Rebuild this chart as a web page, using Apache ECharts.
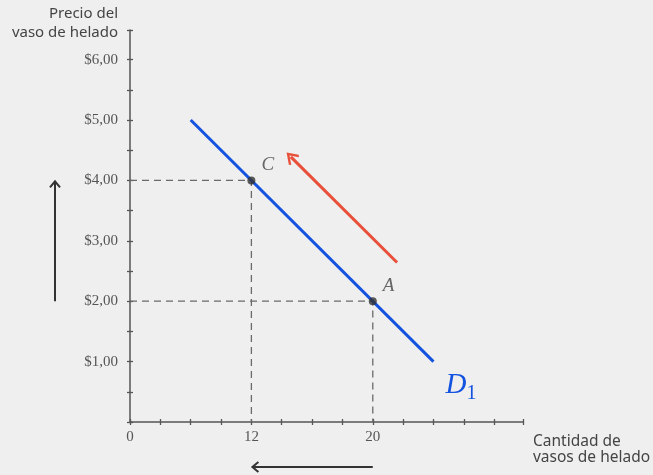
<!DOCTYPE html>
<html><head><meta charset="utf-8">
<script src="https://cdn.jsdelivr.net/npm/echarts@6/dist/echarts.min.js"></script>
<style>html,body{margin:0;padding:0;background:#efefef}#c{width:653px;height:475px}</style>
</head><body><div id="c"></div>
<script>
// Data (quantity of ice-cream cups, price per cup)
const demandLine = [[8, 5], [24, 1]];
const pointNames = ['C', 'A'];
const pointQty = [12, 20];
const pointPrice = [4, 2];
const priceArrow = [[21.6, 2.64], [14.6, 4.39]];
const xTickLabels = {4: '0', 12: '12', 20: '20'};
const yTickLabels = {1: '$1,00', 2: '$2,00', 3: '$3,00', 4: '$4,00', 5: '$5,00', 6: '$6,00'};
const yAxisName = ['Precio del', 'vaso de helado'];
const xAxisName = ['Cantidad de', 'vasos de helado'];

const serif = '"Liberation Serif", "DejaVu Serif", serif';
const sans = '"Noto Sans", "Open Sans", sans-serif';
const axisColor = '#555';

const chart = echarts.init(document.getElementById('c'), null, {renderer: 'canvas'});

const xBase = {type: 'value', min: 4, max: 29.9, interval: 2};
const yBase = {type: 'value', min: 0, max: 6.49, interval: 0.5};

const guides = pointQty.map((q, i) => ({
  type: 'line', xAxisIndex: 0, yAxisIndex: 0, silent: true, symbol: 'none',
  lineStyle: {color: '#6a6a6a', width: 1.3, type: [7, 5]},
  data: [[4, pointPrice[i]], [q, pointPrice[i]], [q, 0]], z: 1
}));

chart.setOption({
  backgroundColor: '#efefef',
  animation: false,
  grid: {left: 130, right: 130, top: 30, bottom: 53},
  xAxis: [
    Object.assign({}, xBase, {
      position: 'bottom',
      axisLine: {show: true, onZero: false, lineStyle: {color: axisColor, width: 1.5}},
      axisTick: {show: true, length: 3, lineStyle: {color: axisColor, width: 1.3}},
      axisLabel: {
        margin: 8, color: '#555', fontFamily: serif, fontSize: 15,
        formatter: v => xTickLabels[v] !== undefined ? xTickLabels[v] : ''
      },
      splitLine: {show: false}
    }),
    Object.assign({}, xBase, {
      position: 'bottom',
      axisLine: {show: false, onZero: false},
      axisTick: {show: true, inside: true, length: 3, lineStyle: {color: axisColor, width: 1.3}},
      axisLabel: {show: false}, splitLine: {show: false}
    })
  ],
  yAxis: [
    Object.assign({}, yBase, {
      position: 'left',
      axisLine: {show: true, onZero: false, lineStyle: {color: axisColor, width: 1.5}},
      axisTick: {show: true, length: 3, lineStyle: {color: axisColor, width: 1.3}},
      axisLabel: {
        margin: 12, color: '#555', fontFamily: serif, fontSize: 15,
        formatter: v => yTickLabels[v] !== undefined ? yTickLabels[v] : ''
      },
      splitLine: {show: false}
    }),
    Object.assign({}, yBase, {
      position: 'left',
      axisLine: {show: false, onZero: false},
      axisTick: {show: true, inside: true, length: 3, lineStyle: {color: axisColor, width: 1.3}},
      axisLabel: {show: false}, splitLine: {show: false}
    })
  ],
  series: guides.concat([
    {
      name: 'D1', type: 'line', xAxisIndex: 0, yAxisIndex: 0, symbol: 'none', z: 3,
      lineStyle: {color: '#1452e0', width: 3},
      data: demandLine,
      endLabel: {
        show: true, formatter: '{d|D}{s|1}', offset: [4, 24],
        rich: {
          d: {fontFamily: serif, fontStyle: 'italic', fontSize: 29, color: '#1452e0', verticalAlign: 'bottom'},
          s: {fontFamily: serif, fontSize: 20, color: '#1452e0', verticalAlign: 'bottom', padding: [0, 0, -4, 0]}
        }
      },
      markLine: {
        silent: true, symbol: ['none', 'path://M0,0 L9,11 L7,13 L0,4.5 L-7,13 L-9,11 Z'],
        symbolSize: [14, 12],
        label: {show: false},
        lineStyle: {color: '#e8503a', width: 3, type: 'solid'},
        data: [[{coord: priceArrow[0]}, {coord: priceArrow[1]}]]
      }
    },
    {
      type: 'scatter', xAxisIndex: 0, yAxisIndex: 0, z: 5, symbolSize: 8,
      itemStyle: {color: '#333'},
      data: pointQty.map((q, i) => ({value: [q, pointPrice[i]], name: pointNames[i]})),
      label: {
        show: true, formatter: p => p.name, position: 'right', offset: [1, -15],
        fontFamily: serif, fontStyle: 'italic', fontSize: 19, color: '#444'
      }
    }
  ])
});

// annotation arrows outside the plot, positioned from the axis scales
function drawArrows() {
  const pA = chart.convertToPixel({gridIndex: 0}, [pointQty[1], pointPrice[1]]);
  const pC = chart.convertToPixel({gridIndex: 0}, [pointQty[0], pointPrice[0]]);
  const vx = 55, hy = 467, col = '#333';
  chart.setOption({
    graphic: [
      {type: 'line', shape: {x1: vx, y1: pA[1], x2: vx, y2: pC[1] + 1}, style: {stroke: col, lineWidth: 2}},
      {type: 'polyline', shape: {points: [[vx - 5, pC[1] + 7], [vx, pC[1] + 1], [vx + 5, pC[1] + 7]]}, style: {stroke: col, lineWidth: 2, fill: null}},
      {type: 'line', shape: {x1: pA[0], y1: hy, x2: pC[0] + 1, y2: hy}, style: {stroke: col, lineWidth: 2}},
      {type: 'polyline', shape: {points: [[pC[0] + 7, hy - 5], [pC[0] + 1, hy], [pC[0] + 7, hy + 5]]}, style: {stroke: col, lineWidth: 2, fill: null}},
      {type: 'text', x: 118, y: 4, style: {text: yAxisName.join('\n'), font: '15px ' + sans, fill: '#444', align: 'right', lineHeight: 19}},
      {type: 'text', x: 533, y: 434, style: {text: xAxisName.join('\n'), font: '15.5px ' + sans, fill: '#444', align: 'left', lineHeight: 16}}
    ]
  });
}
drawArrows();
</script>
</body></html>
